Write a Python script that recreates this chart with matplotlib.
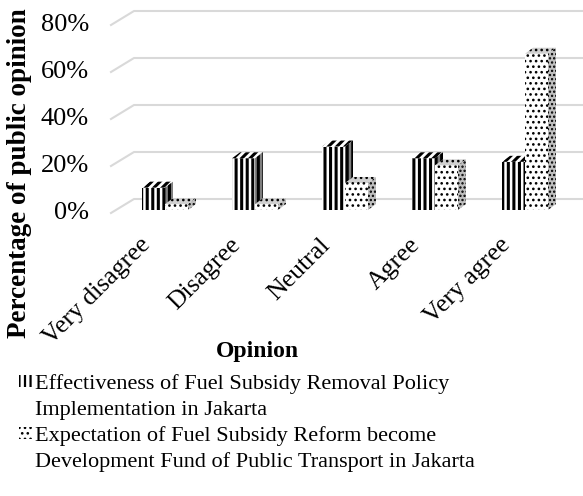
import matplotlib
matplotlib.use("Agg")
import matplotlib.pyplot as plt
import matplotlib.transforms as mtransforms
from matplotlib.patches import Polygon, Rectangle

# Data (percent of respondents)
categories = ["Very disagree", "Disagree", "Neutral", "Agree", "Very agree"]
effectiveness = [9.5, 22, 27, 22, 20.5]
expectation = [2.5, 2.5, 11.5, 19, 66.5]
y_ticks = [0, 20, 40, 60, 80]
y_tick_labels = ["0%", "20%", "40%", "60%", "80%"]
series_labels = [
    "Effectiveness of Fuel Subsidy Removal Policy\nImplementation in Jakarta",
    "Expectation of Fuel Subsidy Reform become\nDevelopment Fund of Public Transport in Jakarta",
]

plt.rcParams["font.family"] = ["Liberation Serif", "DejaVu Serif"]

W, H, DPI = 583, 496, 100
fig = plt.figure(figsize=(W / DPI, H / DPI), dpi=DPI)

# front plane of the floor, in pixels
left_px, right_px, bottom_px, top_px = 111, 561, 213, 25
ax = fig.add_axes([left_px / W, 1 - bottom_px / H,
                   (right_px - left_px) / W, (bottom_px - top_px) / H])
ax.set_xlim(-0.5, len(categories) - 0.5)
ax.set_ylim(0, 80)

# pixel -> data helpers for the fake 3D depth
px_x = (right_px - left_px) / len(categories)
px_y = (bottom_px - top_px) / 80.0
def dx(p):
    return p / px_x
def dy(p):
    return p / px_y

floor_dx, floor_dy = dx(23), dy(14)
bar_dx, bar_dy = dx(8), dy(6)
base = dy(3)
shift = dx(-14)       # left edge of first series relative to category centre
bw = dx(23)

# gridlines drawn as receding floor lines
for t in y_ticks:
    ax.plot([-0.5, -0.5 + floor_dx, len(categories) - 0.5 + floor_dx],
            [t, t + floor_dy, t + floor_dy],
            color="#d9d9d9", lw=1.5, clip_on=False, zorder=0)


def hatch_lw(patch, lw):
    try:
        patch.set_hatch_linewidth(lw)
    except AttributeError:
        pass


def add_face(pts, fc, hatch, lw):
    p = Polygon(pts, closed=True, facecolor=fc, edgecolor="black",
                linewidth=0, hatch=hatch, clip_on=False, zorder=3)
    hatch_lw(p, lw)
    ax.add_patch(p)


styles = [
    dict(front="white", top="white", side="#7f7f7f",
         hf="|||", ht="////", hs="|||", lw=2.2),
    dict(front="white", top="#d0d0d0", side="#bfbfbf",
         hf="...", ht="...", hs="....", lw=1.1),
]

for s, values in enumerate([effectiveness, expectation]):
    st = styles[s]
    xs = [i + shift + s * bw for i in range(len(categories))]
    bars = ax.bar(xs, values, width=bw, bottom=base, align="edge",
                  color=st["front"], edgecolor="black", linewidth=0,
                  hatch=st["hf"], clip_on=False, zorder=3)
    for b in bars:
        hatch_lw(b, st["lw"])
    for x0, v in zip(xs, values):
        top = base + v
        add_face([(x0, top), (x0 + bw, top), (x0 + bw + bar_dx, top + bar_dy),
                  (x0 + bar_dx, top + bar_dy)], st["top"], st["ht"], st["lw"])
        add_face([(x0 + bw, base), (x0 + bw + bar_dx, base + bar_dy),
                  (x0 + bw + bar_dx, top + bar_dy), (x0 + bw, top)],
                 st["side"], st["hs"], st["lw"])

for sp in ax.spines.values():
    sp.set_visible(False)
ax.set_yticks(y_ticks, y_tick_labels)
ax.set_xticks(range(len(categories)), categories)
ax.tick_params(axis="y", length=0, pad=16, labelsize=19)
ax.tick_params(axis="x", length=0, pad=15, labelsize=18.5)
for lab in ax.get_yticklabels():
    lab.set_va("center")
nudge = mtransforms.ScaledTranslation(-17 / DPI, 0, fig.dpi_scale_trans)
for lab in ax.get_xticklabels():
    lab.set_rotation(45)
    lab.set_ha("right")
    lab.set_va("top")
    lab.set_rotation_mode("anchor")
    lab.set_transform(lab.get_transform() + nudge)

fig.text(257 / W, 1 - 352 / H, "Opinion", fontsize=17, fontweight="bold",
         ha="center", va="center")
fig.text(20 / W, 1 - 173 / H, "Percentage of public opinion", fontsize=19.5,
         fontweight="bold", rotation=90, ha="center", va="center")

# legend, drawn by hand so the key sits on the first line of each label
legend_rows = [(375, [389, 415]), (427, [441, 467])]
for s, (key_top, baselines) in enumerate(legend_rows):
    st = styles[s]
    key = Rectangle((19 / W, 1 - (key_top + 12) / H), 13 / W, 12 / H,
                    transform=fig.transFigure, facecolor="white",
                    edgecolor="black", linewidth=0, hatch=st["hf"])
    hatch_lw(key, 1.6 if s == 0 else 1.1)
    fig.add_artist(key)
    for line, yb in zip(series_labels[s].split("\n"), baselines):
        fig.text(35 / W, 1 - yb / H, line, fontsize=16, ha="left",
                 va="baseline")

fig.savefig("out.png", dpi=DPI)
